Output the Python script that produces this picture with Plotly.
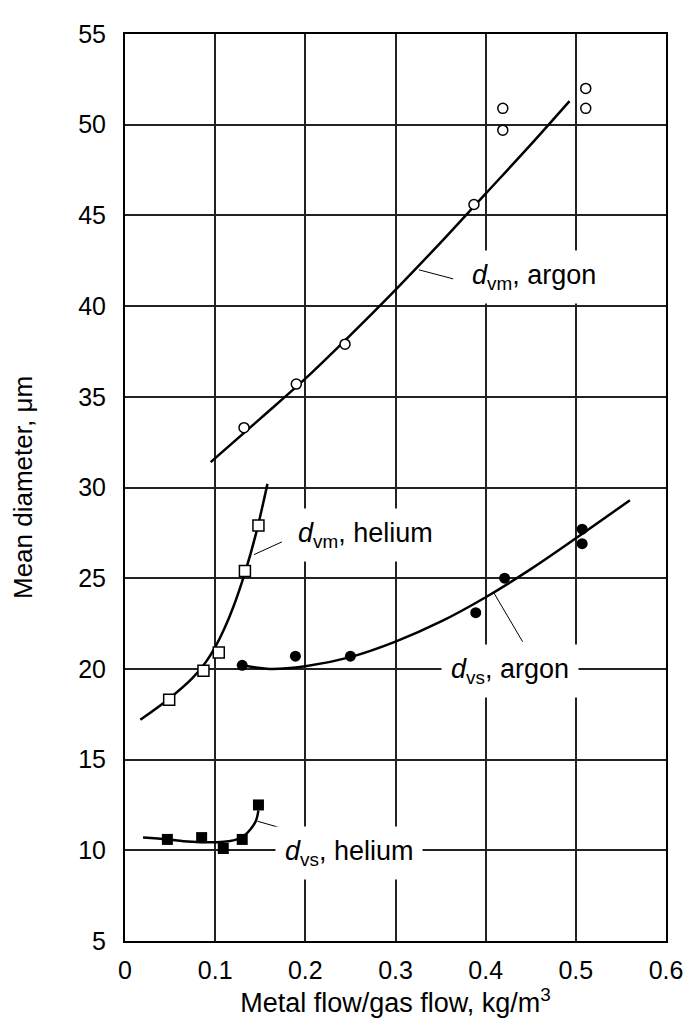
import plotly.graph_objects as go

# ---- measured points ----
dvm_argon_x = [0.132, 0.190, 0.244, 0.387, 0.419, 0.419, 0.511, 0.511]
dvm_argon_y = [33.3, 35.7, 37.9, 45.6, 49.7, 50.9, 50.9, 52.0]

dvm_helium_x = [0.049, 0.087, 0.104, 0.133, 0.148]
dvm_helium_y = [18.3, 19.9, 20.9, 25.4, 27.9]

dvs_argon_x = [0.130, 0.189, 0.250, 0.389, 0.421, 0.507, 0.507]
dvs_argon_y = [20.2, 20.7, 20.7, 23.1, 25.0, 26.9, 27.7]

dvs_helium_x = [0.047, 0.085, 0.109, 0.130, 0.148]
dvs_helium_y = [10.6, 10.7, 10.1, 10.6, 12.5]

# ---- fitted curves ----
fit_dvm_argon_x = [0.095, 0.15, 0.2, 0.25, 0.3, 0.35, 0.4, 0.45, 0.493]
fit_dvm_argon_y = [31.4, 33.8, 36.0, 38.4, 40.9, 43.5, 46.2, 48.9, 51.3]

fit_dvm_helium_x = [0.017, 0.05, 0.075, 0.09, 0.1, 0.11, 0.12, 0.133, 0.145, 0.158]
fit_dvm_helium_y = [17.2, 18.4, 19.5, 20.4, 21.2, 22.2, 23.4, 25.3, 27.4, 30.2]

fit_dvs_argon_x = [0.13, 0.16, 0.2, 0.25, 0.3, 0.35, 0.4, 0.45, 0.5, 0.56]
fit_dvs_argon_y = [20.2, 20.0, 20.15, 20.65, 21.5, 22.6, 23.95, 25.5, 27.2, 29.3]

fit_dvs_helium_x = [0.02, 0.047, 0.065, 0.085, 0.102, 0.115, 0.124, 0.132, 0.139, 0.145, 0.148]
fit_dvs_helium_y = [10.7, 10.6, 10.5, 10.45, 10.45, 10.5, 10.6, 10.8, 11.15, 11.6, 12.2]

# ---- curve labels ----
label_text = ["<i>d</i><sub>vm</sub>, argon", "<i>d</i><sub>vm</sub>, helium",
              "<i>d</i><sub>vs</sub>, argon", "<i>d</i><sub>vs</sub>, helium"]
label_x = [0.374, 0.181, 0.350, 0.166]
label_y = [41.6, 27.4, 19.9, 9.85]
leader_x0 = [0.326, 0.143, 0.409, 0.147]
leader_y0 = [42.0, 26.3, 24.2, 11.6]
leader_x1 = [0.364, 0.174, 0.441, 0.186]
leader_y1 = [41.5, 27.0, 21.5, 11.05]

x_ticks = [0, 0.1, 0.2, 0.3, 0.4, 0.5, 0.6]
x_tick_labels = ["0", "0.1", "0.2", "0.3", "0.4", "0.5", "0.6"]
y_ticks = [5, 10, 15, 20, 25, 30, 35, 40, 45, 50, 55]

FONT = "Liberation Sans, Arial, sans-serif"
fig = go.Figure()

line_style = dict(color="black", width=2.5, shape="spline", smoothing=1.0)
for fx, fy in [(fit_dvm_argon_x, fit_dvm_argon_y), (fit_dvm_helium_x, fit_dvm_helium_y),
               (fit_dvs_argon_x, fit_dvs_argon_y), (fit_dvs_helium_x, fit_dvs_helium_y)]:
    fig.add_trace(go.Scatter(x=fx, y=fy, mode="lines", line=line_style,
                             hoverinfo="skip", showlegend=False))

fig.add_trace(go.Scatter(x=dvm_argon_x, y=dvm_argon_y, mode="markers", showlegend=False,
                         marker=dict(symbol="circle", size=10, color="white",
                                     line=dict(color="black", width=1.5))))
fig.add_trace(go.Scatter(x=dvm_helium_x, y=dvm_helium_y, mode="markers", showlegend=False,
                         marker=dict(symbol="square", size=11, color="white",
                                     line=dict(color="black", width=1.5))))
fig.add_trace(go.Scatter(x=dvs_argon_x, y=dvs_argon_y, mode="markers", showlegend=False,
                         marker=dict(symbol="circle", size=11, color="black")))
fig.add_trace(go.Scatter(x=dvs_helium_x, y=dvs_helium_y, mode="markers", showlegend=False,
                         marker=dict(symbol="square", size=11, color="black")))

for i in range(len(label_text)):
    fig.add_shape(type="line", xref="x", yref="y",
                  x0=leader_x0[i], y0=leader_y0[i], x1=leader_x1[i], y1=leader_y1[i],
                  line=dict(color="black", width=1), layer="above")
    fig.add_annotation(x=label_x[i], y=label_y[i], xref="x", yref="y",
                       text=label_text[i], showarrow=False, xanchor="left", yanchor="middle",
                       bgcolor="white", borderpad=9,
                       font=dict(family=FONT, size=27, color="black"))

fig.update_layout(
    width=692, height=1019,
    margin=dict(l=117, r=34, t=18, b=86),
    paper_bgcolor="white", plot_bgcolor="white",
    font=dict(family=FONT, color="black"),
)
fig.update_xaxes(range=[0, 0.6], tickvals=x_ticks, ticktext=x_tick_labels,
                 showgrid=True, gridcolor="#222", gridwidth=1.5,
                 showline=True, linecolor="black", linewidth=2, mirror=True,
                 ticks="", zeroline=False, tickfont=dict(size=25), ticklabelstandoff=6,
                 title=dict(text="Metal flow/gas flow, kg/m<sup>3</sup>", font=dict(size=27), standoff=8))
fig.update_yaxes(range=[5, 55], tickvals=y_ticks,
                 showgrid=True, gridcolor="#222", gridwidth=1.5,
                 showline=True, linecolor="black", linewidth=2, mirror=True,
                 ticks="", zeroline=False, tickfont=dict(size=25), ticklabelstandoff=12,
                 title=dict(text="Mean diameter, μm", font=dict(size=26), standoff=38))

fig.write_html("out.html")
